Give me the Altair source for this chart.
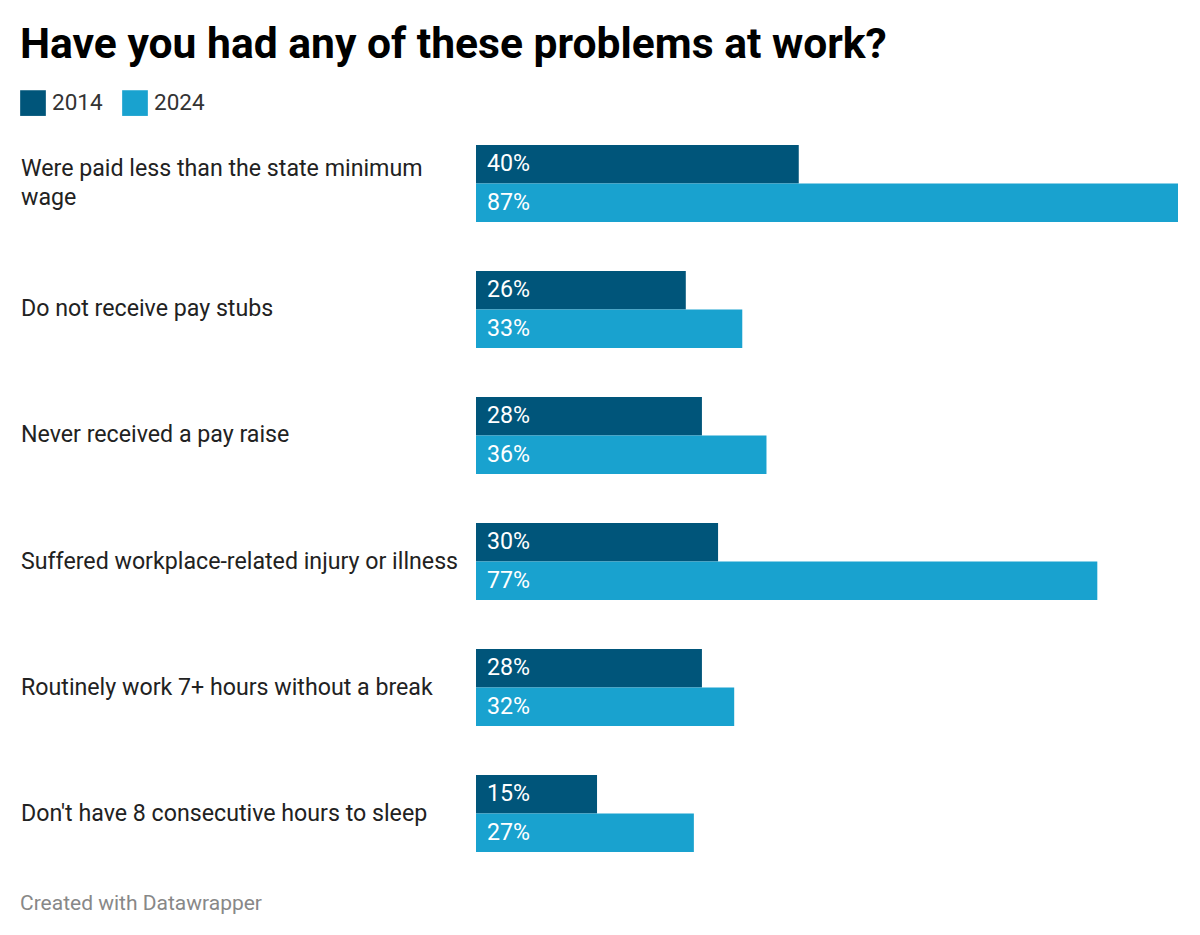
import altair as alt
import pandas as pd

# Survey answers: share of workers reporting each problem
categories = [
    "Were paid less than the state minimum\nwage",
    "Do not receive pay stubs",
    "Never received a pay raise",
    "Suffered workplace-related injury or illness",
    "Routinely work 7+ hours without a break",
    "Don't have 8 consecutive hours to sleep",
]
years = ["2014", "2024"]
pct_2014 = [40, 26, 28, 30, 28, 15]
pct_2024 = [87, 33, 36, 77, 32, 27]
colors = ["#00557a", "#19a2cf"]

title_text = "Have you had any of these problems at work?"
footer_text = "Created with Datawrapper"

rows = []
for cat, a, b in zip(categories, pct_2014, pct_2024):
    rows.append({"category": cat, "year": years[0], "pct": a, "label": f"{a}%"})
    rows.append({"category": cat, "year": years[1], "pct": b, "label": f"{b}%"})
df = pd.DataFrame(rows)

# single-line and two-line category labels are drawn in separate layers so the
# two-line block can be centred on its group
single_df = pd.DataFrame({"category": [c for c in categories if "\n" not in c]})
multi_df = pd.DataFrame({"category": [c for c in categories if "\n" in c]})

FONT = "Roboto"
LABEL_SIZE = 23.2
LINE_HEIGHT = 29

y_enc = alt.Y(
    "category:N",
    sort=categories,
    axis=None,
    scale=alt.Scale(paddingInner=0.389, paddingOuter=0),
)
y_off = alt.YOffset("year:N", sort=years, scale=alt.Scale(paddingInner=0, paddingOuter=0))

bars = alt.Chart(df).mark_bar(cornerRadius=0).encode(
    x=alt.X("pct:Q", axis=None, scale=alt.Scale(domain=[0, 87], nice=False)),
    y=y_enc,
    yOffset=y_off,
    color=alt.Color(
        "year:N",
        sort=years,
        scale=alt.Scale(domain=years, range=colors),
        legend=alt.Legend(
            title=None,
            orient="none",
            legendX=-456,
            legendY=-55,
            direction="horizontal",
            symbolType="square",
            symbolSize=660,
            symbolStrokeWidth=0,
            symbolOpacity=1,
            labelFont=FONT,
            labelFontSize=22.5,
            labelColor="#333333",
            labelOffset=6,
            columnPadding=19,
        ),
    ),
)

values = alt.Chart(df).mark_text(
    align="left", baseline="middle", font=FONT, fontSize=LABEL_SIZE, color="white"
).encode(
    x=alt.value(11),
    y=y_enc,
    yOffset=y_off,
    text="label:N",
)

label_style = dict(
    align="left", baseline="middle", font=FONT, fontSize=LABEL_SIZE,
    color="#222222", lineBreak="\n", lineHeight=LINE_HEIGHT,
)

single_labels = alt.Chart(single_df).mark_text(**label_style).encode(
    x=alt.value(-455), y=y_enc, text="category:N"
)
multi_labels = alt.Chart(multi_df).mark_text(dy=-LINE_HEIGHT / 2, **label_style).encode(
    x=alt.value(-455), y=y_enc, text="category:N"
)

title = alt.Chart(pd.DataFrame({"t": [title_text]})).mark_text(
    align="left", baseline="alphabetic", font=FONT, fontSize=42.6,
    fontWeight="bold", color="#000000",
).encode(x=alt.value(-456), y=alt.value(-87), text="t:N")

footer = alt.Chart(pd.DataFrame({"t": [footer_text]})).mark_text(
    align="left", baseline="alphabetic", font=FONT, fontSize=21, color="#888888",
).encode(x=alt.value(-456), y=alt.value(765), text="t:N")

chart = (
    alt.layer(bars, values, single_labels, multi_labels, title, footer)
    .properties(
        width=702,
        height=707,
        autosize=alt.AutoSizeParams(type="none"),
        padding={"left": 476, "top": 145, "right": 22, "bottom": 83},
        background="white",
    )
    .configure_view(stroke=None)
)

chart.save("out.html", embed_options={"renderer": "svg", "actions": False})
